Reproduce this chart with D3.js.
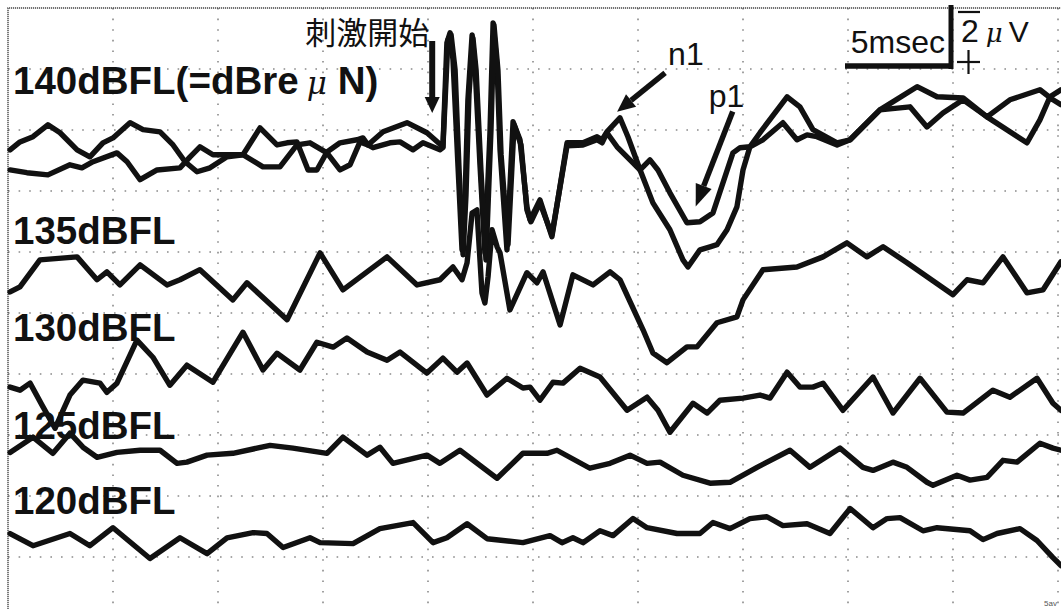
<!DOCTYPE html>
<html>
<head>
<meta charset="utf-8">
<script src="https://cdn.jsdelivr.net/npm/d3@7"></script>
<style>
  html, body { margin: 0; padding: 0; background: #fff; }
  svg { display: block; }
</style>
</head>
<body>
<div id="chart"></div>
<script>
// time in msec, amplitude in microvolts (negative up, positive down)
var trace140a = [
  [0.10,0],[0.57,-0.26],[1.19,-0.43],[1.90,-0.82],[2.48,-0.56],[3.29,0],[3.90,0.23],[4.52,-0.23],
  [5.00,-0.39],[5.81,-0.89],[6.43,-0.66],[7.24,-0.59],[7.86,-0.16],[8.43,0.39],[9.00,0.72],[9.62,0.59],
  [10.43,0.23],[11.19,0.16],[12.00,-0.72],[12.81,-0.16],[13.29,-0.23],[13.76,-0.26],[14.29,0.66],[14.71,0.66],
  [15.19,0.07],[15.81,-0.23],[16.62,-0.33],[16.90,-0.39],[17.14,-0.16],[17.86,-0.59],[19.00,-0.89],[19.95,-0.56],
  [20.71,-0.10],[20.90,-3.51],[21.05,-3.84],[21.19,-2.95],[21.43,0.56],[21.62,3.28],[21.76,1.64],[21.90,-1.64],
  [22.10,-3.77],[22.24,-2.72],[22.48,0.56],[22.71,3.38],[22.95,-0.56],[23.10,-4.16],[23.29,-2.72],[23.43,0],
  [23.76,3.28],[24.05,-0.92],[24.38,-0.33],[24.71,1.87],[24.86,2.30],[25.33,1.64],[25.90,2.85],[26.62,-0.23],
  [27.38,-0.23],[28.05,-0.43],[28.29,-0.33],[28.52,-0.59],[29.14,-1.05],[29.52,-0.43],[30.10,0.66],[30.71,1.74],
  [31.52,2.62],[32.14,3.61],[32.38,3.84],[32.95,3.28],[33.43,3.18],[33.76,3.11],[34.24,2.62],[34.71,1.87],
  [35.00,0.66],[35.33,-0.10],[35.95,-0.33],[36.90,-0.89],[37.57,-0.33],[38.05,-0.49],[38.52,-0.43],[39.48,-0.16],
  [40.10,-0.33],[41.52,-1.31],[42.95,-1.41],[43.76,-0.75],[44.52,-1.21],[45.48,-1.64],[46.62,-1.08],[48.52,-0.23],
  [49.14,-0.98],[49.62,-1.74],[50.14,-1.97]
];
var trace140b = [
  [0.10,0.66],[0.90,0.75],[1.90,0.82],[2.95,0.49],[3.52,0.59],[4.05,0.39],[5.19,0.10],[5.67,0.39],
  [6.29,0.98],[7.10,0.66],[8.19,0.59],[8.67,0.23],[9.14,-0.10],[9.76,0.16],[10.43,0.16],[11.19,0.16],
  [12.14,0.56],[12.95,0.56],[13.76,-0.16],[14.38,-0.23],[15.19,0.10],[15.81,0.66],[16.29,0.49],[16.76,-0.26],
  [17.14,-0.16],[17.38,-0.07],[18.19,-0.23],[18.67,-0.26],[19.29,0],[19.76,-0.23],[20.57,0],[20.71,-0.07],
  [20.95,-3.61],[21.10,-3.77],[21.29,-2.62],[21.48,0.66],[21.67,3.44],[21.81,1.48],[21.95,-1.80],[22.14,-3.67],
  [22.29,-2.62],[22.52,0.66],[22.76,3.61],[23.00,-0.66],[23.14,-4.10],[23.33,-2.62],[23.48,0.16],[23.81,3.11],
  [24.10,-0.82],[24.43,-0.16],[24.71,1.97],[24.90,2.36],[25.33,1.74],[25.90,2.79],[26.62,-0.13],[27.38,-0.16],
  [28.05,-0.33],[28.29,-0.23],[28.52,-0.56],[29.00,-0.10],[29.76,0.43],[30.10,0.66],[30.57,0.33],[30.95,0.66],
  [31.52,1.41],[32.33,2.39],[32.95,2.36],[33.57,2.07],[34.52,0.10],[34.86,-0.07],[35.33,-0.10],[35.81,-0.56],
  [37.10,-1.74],[37.71,-1.41],[38.33,-0.66],[39.48,-0.23],[40.10,-0.33],[41.52,-1.31],[43.29,-2.07],[44.24,-1.74],
  [45.48,-1.70],[46.62,-1.08],[47.71,-1.64],[49.14,-1.97],[49.76,-1.64],[50.14,-1.48]
];
var trace135 = [
  [0.10,0.66],[0.57,0.49],[1.52,-0.39],[3.29,-0.49],[4.24,0.26],[4.71,0],[5.33,0.43],[6.29,-0.23],
  [7.57,0.43],[8.19,0.26],[9.14,-0.07],[10.71,0.92],[11.38,0.36],[13.29,1.57],[14.86,-0.62],[15.95,0.59],
  [18.05,-0.49],[19.48,0.43],[20.57,0.26],[21.19,-0.16],[21.62,0.26],[21.86,-0.30],[22.10,-1.93],[22.33,-2.03],
  [22.57,0.69],[22.71,1.02],[22.86,0.16],[23.05,-1.38],[23.29,-0.82],[23.43,-0.62],[23.90,1.25],[24.71,0.03],
  [25.19,0.36],[25.48,0],[26.29,1.74],[26.90,0.10],[27.86,0.43],[28.67,0],[29.14,0.26],[30.24,1.90],
  [30.71,2.66],[31.38,2.98],[32.33,2.46],[32.81,2.46],[33.76,1.67],[34.71,1.48],[35.00,0.92],[35.95,-0.07],
  [37.57,-0.16],[38.81,-0.49],[39.95,-0.95],[40.90,-0.49],[41.67,-0.82],[42.81,-0.30],[45.00,0.75],[45.67,0.26],
  [46.43,0.36],[47.38,-0.49],[48.52,0.69],[49.29,0.59],[50.14,-0.33]
];
var trace130 = [
  [0.10,0.13],[0.57,0.23],[1.05,0],[1.62,0.72],[2.24,1.48],[2.62,0.89],[2.95,0.39],[3.57,-0.10],
  [4.38,0],[4.71,0.30],[5.19,0],[6.14,-1.41],[6.90,-0.85],[7.71,0.07],[8.52,-0.59],[9.76,-0.03],
  [11.19,-1.67],[12.14,-0.43],[12.81,-0.98],[13.90,-0.43],[14.71,-1.34],[15.48,-1.18],[16.14,-1.48],[17.10,-1.02],
  [18.05,-0.75],[18.67,-1.02],[19.95,-0.33],[20.71,-0.82],[21.38,-0.36],[21.86,-0.66],[22.81,0.39],[23.76,-0.16],
  [24.52,0.16],[24.86,0.13],[25.33,0.56],[25.95,-0.03],[26.43,0],[27.24,-0.49],[28.19,-0.20],[29.48,0.89],
  [30.43,0.46],[30.95,0.89],[31.52,1.61],[32.62,0.66],[33.29,0.98],[33.90,0.56],[35.00,0.49],[35.81,0.39],
  [36.29,0.49],[37.10,-0.36],[37.71,0.13],[38.33,0.13],[38.81,0],[39.76,0.89],[41.19,-0.20],[42.14,0.98],
  [43.43,-0.16],[44.71,0.95],[45.48,0.98],[46.90,0.23],[47.71,0.46],[49.00,-0.16],[49.76,0.66],[50.14,0.89]
];
var trace125 = [
  [0.10,0.07],[1.19,-0.43],[2.14,0.10],[2.95,-0.56],[3.57,-0.10],[4.24,0.23],[5.19,0.07],[6.29,0],
  [7.24,0],[8.05,0.43],[8.52,0.39],[9.48,0.16],[10.71,0.10],[12.48,-0.16],[13.57,-0.07],[15.19,0.10],
  [15.95,-0.43],[17.10,0.16],[17.71,-0.10],[18.33,0.43],[19.95,0.16],[20.57,0.43],[21.52,0],[23.29,0.92],
  [24.52,0.10],[25.67,0.10],[26.14,0],[27.71,0.59],[28.67,0.43],[29.62,0.16],[30.43,0.43],[31.05,0.39],
  [32.14,0.82],[33.43,1.08],[34.38,1.05],[35.67,0.56],[37.24,0],[38.19,0.56],[39.62,-0.07],[40.71,0.56],
  [41.19,0.66],[42.14,0.39],[42.81,0.56],[43.76,1.05],[44.05,1.15],[45.19,0.82],[45.81,0.98],[46.62,0.89],
  [47.38,0.33],[48.05,0.39],[49.14,-0.23],[49.76,-0.07],[50.14,0]
];
var trace120 = [
  [0.10,-0.07],[1.19,0.33],[2.95,-0.07],[3.90,0.33],[5.00,-0.26],[6.76,0.75],[8.19,0.07],[9.48,0.59],
  [10.43,0.07],[11.67,-0.10],[12.33,-0.07],[13.10,0.39],[14.38,0.07],[14.86,0.23],[16.43,0.26],[17.71,-0.23],
  [19.29,-0.43],[20.24,0.23],[20.90,0.07],[21.86,-0.39],[22.81,0.10],[24.52,0.23],[25.81,0],[26.38,0.23],
  [26.90,0.07],[27.38,0.23],[28.19,-0.16],[28.81,0],[29.76,-0.56],[30.43,-0.26],[31.86,-0.07],[32.95,-0.07],
  [33.57,-0.43],[34.38,-0.23],[35.33,-0.56],[36.14,-0.62],[36.90,-0.33],[38.05,-0.39],[39.14,-0.07],[40.10,-0.89],
  [41.19,-0.26],[41.86,-0.56],[42.48,-0.59],[43.57,-0.16],[44.24,-0.26],[45.81,-0.16],[46.43,0.13],[47.10,-0.07],
  [48.19,-0.23],[49.00,0.16],[49.76,0.72],[50.14,0.98]
];

// baseline of each trace, in microvolts from the top of the screen
var level140 = 4.65, level135 = 8.65, level130 = 12.3, level125 = 14.5, level120 = 17.3;
var levelLabels = ["140dBFL", "135dBFL", "130dBFL", "125dBFL", "120dBFL"];

var stimOnset = 20.2;          // msec
var n1Peak = [29.1, -1.05];    // on the 140 dB traces
var p1Trough = [32.7, 2.35];

var width = 1061, height = 609;
var x = d3.scaleLinear().domain([0, 50]).range([8, 1058]);
var y = d3.scaleLinear().domain([0, 20]).range([8, 618]);

var svg = d3.select("#chart").append("svg")
  .attr("width", width)
  .attr("height", height)
  .style("background", "#fff");

// dotted grid, one division = 5 msec x 2 uV
var grid = svg.append("g");
grid.selectAll(".gv")
  .data(x.ticks(10).slice(1))
  .join("line")
  .attr("class", "gv")
  .attr("x1", (d) => x(d)).attr("x2", (d) => x(d))
  .attr("y1", 8).attr("y2", height)
  .attr("stroke", "#8a8a8a")
  .attr("stroke-width", 1.6)
  .attr("stroke-dasharray", "1.6 9");
grid.selectAll(".gh")
  .data(y.ticks(10).slice(1))
  .join("line")
  .attr("class", "gh")
  .attr("x1", 8).attr("x2", width)
  .attr("y1", (d) => y(d)).attr("y2", (d) => y(d))
  .attr("stroke", "#8a8a8a")
  .attr("stroke-width", 1.6)
  .attr("stroke-dasharray", "1.6 9");

// frame (left and top only)
svg.append("path")
  .attr("d", `M${x(0)},${height}V${y(0)}H${width}`)
  .attr("fill", "none")
  .attr("stroke", "#444")
  .attr("stroke-width", 1.4)
  .attr("stroke-dasharray", "1.2 0.8");

var traces = [
  { data: trace140a, level: level140 },
  { data: trace140b, level: level140 },
  { data: trace135, level: level135 },
  { data: trace130, level: level130 },
  { data: trace125, level: level125 },
  { data: trace120, level: level120 }
];

var line = d3.line()
  .x((d) => x(d[0]))
  .y((d) => y(d[1]));

svg.append("g")
  .selectAll("path")
  .data(traces)
  .join("path")
  .attr("d", (d) => line(d.data.map((p) => [p[0], p[1] + d.level])))
  .attr("fill", "none")
  .attr("stroke", "#111")
  .attr("stroke-width", 5.4)
  .attr("stroke-linejoin", "round")
  .attr("stroke-linecap", "round");

// level labels
var labelY = [94, 244, 341, 439, 514];
var labels = svg.append("g")
  .style("font-family", "'Liberation Sans', Arial, sans-serif")
  .style("font-weight", "bold")
  .style("font-size", "38.5px")
  .attr("fill", "#111");

labels.selectAll("text")
  .data(levelLabels)
  .join("text")
  .attr("x", 13)
  .attr("y", (d, i) => labelY[i])
  .text((d) => d);

var first = labels.select("text");
first.append("tspan").text("(=dBre");
first.append("tspan")
  .attr("dx", 8)
  .style("font-family", "'DejaVu Serif', serif")
  .style("font-style", "italic")
  .style("font-weight", "normal")
  .style("font-size", "31px")
  .text("\u03bc");
first.append("tspan").attr("dx", 11).text("N)");

// arrows
function arrow(x1, y1, x2, y2, head, headW, w) {
  var dx = x2 - x1, dy = y2 - y1, len = Math.hypot(dx, dy);
  var ux = dx / len, uy = dy / len;
  var bx = x2 - ux * head, by = y2 - uy * head;
  svg.append("line")
    .attr("x1", x1).attr("y1", y1).attr("x2", bx).attr("y2", by)
    .attr("stroke", "#111").attr("stroke-width", w);
  svg.append("path")
    .attr("d", `M${x2},${y2}L${bx - uy * headW / 2},${by + ux * headW / 2}L${bx + uy * headW / 2},${by - ux * headW / 2}Z`)
    .attr("fill", "#111");
}

var sx = x(stimOnset);
arrow(sx, 41, sx, 113, 16, 15, 6);
svg.append("text")
  .attr("x", sx - 3).attr("y", 44)
  .attr("text-anchor", "end")
  .style("font-family", "'Noto Sans CJK JP', sans-serif")
  .style("font-size", "31px")
  .attr("fill", "#111")
  .text("刺激開始");

var n1x = x(n1Peak[0]), n1y = y(n1Peak[1] + level140);
arrow(n1x + 46, n1y - 45, n1x - 2, n1y - 6, 18, 16, 5.5);
svg.append("text")
  .attr("x", n1x + 49).attr("y", 65)
  .style("font-family", "'Liberation Sans', Arial, sans-serif")
  .style("font-size", "32px")
  .attr("fill", "#111")
  .text("n1");

var p1x = x(p1Trough[0]), p1y = y(p1Trough[1] + level140);
arrow(p1x + 38, p1y - 110, p1x + 1, p1y - 15, 22, 17, 5.5);
svg.append("text")
  .attr("x", p1x + 14).attr("y", 107)
  .style("font-family", "'Liberation Sans', Arial, sans-serif")
  .style("font-size", "32px")
  .attr("fill", "#111")
  .text("p1");

// scale bar: 5 msec, 2 uV
var sb = svg.append("g");
var bx0 = x(40), bx1 = x(45), by0 = y(0), by1 = y(2);
sb.append("line")
  .attr("x1", bx0 - 3).attr("x2", bx1).attr("y1", by1 - 3).attr("y2", by1 - 3)
  .attr("stroke", "#111").attr("stroke-width", 5.5);
sb.append("line")
  .attr("x1", bx1 - 2).attr("x2", bx1 - 2).attr("y1", by0 - 3).attr("y2", by1)
  .attr("stroke", "#111").attr("stroke-width", 5);
sb.append("text")
  .attr("x", bx1 - 8).attr("y", 53)
  .attr("text-anchor", "end")
  .style("font-family", "'Liberation Sans', Arial, sans-serif")
  .style("font-size", "32px")
  .attr("fill", "#111")
  .text("5msec");
sb.append("line")
  .attr("x1", 958).attr("x2", 980).attr("y1", 12).attr("y2", 12)
  .attr("stroke", "#111").attr("stroke-width", 2.2);
sb.append("line")
  .attr("x1", 957).attr("x2", 980).attr("y1", 62).attr("y2", 62)
  .attr("stroke", "#111").attr("stroke-width", 2.2);
sb.append("line")
  .attr("x1", 968.5).attr("x2", 968.5).attr("y1", 50).attr("y2", 74)
  .attr("stroke", "#111").attr("stroke-width", 2.2);
var uv = sb.append("text")
  .attr("x", 961).attr("y", 42)
  .style("font-family", "'Liberation Sans', Arial, sans-serif")
  .style("font-size", "32px")
  .attr("fill", "#111");
uv.append("tspan").text("2");
uv.append("tspan")
  .attr("dx", 7)
  .style("font-family", "'DejaVu Serif', serif")
  .style("font-style", "italic")
  .style("font-size", "26px")
  .text("\u03bc");
uv.append("tspan").attr("dx", 6).style("font-size", "30px").text("V");

svg.append("text")
  .attr("x", 1044).attr("y", 606)
  .style("font-family", "'Liberation Sans', Arial, sans-serif")
  .style("font-size", "8px")
  .attr("fill", "#555")
  .text("5av");
</script>
</body>
</html>
